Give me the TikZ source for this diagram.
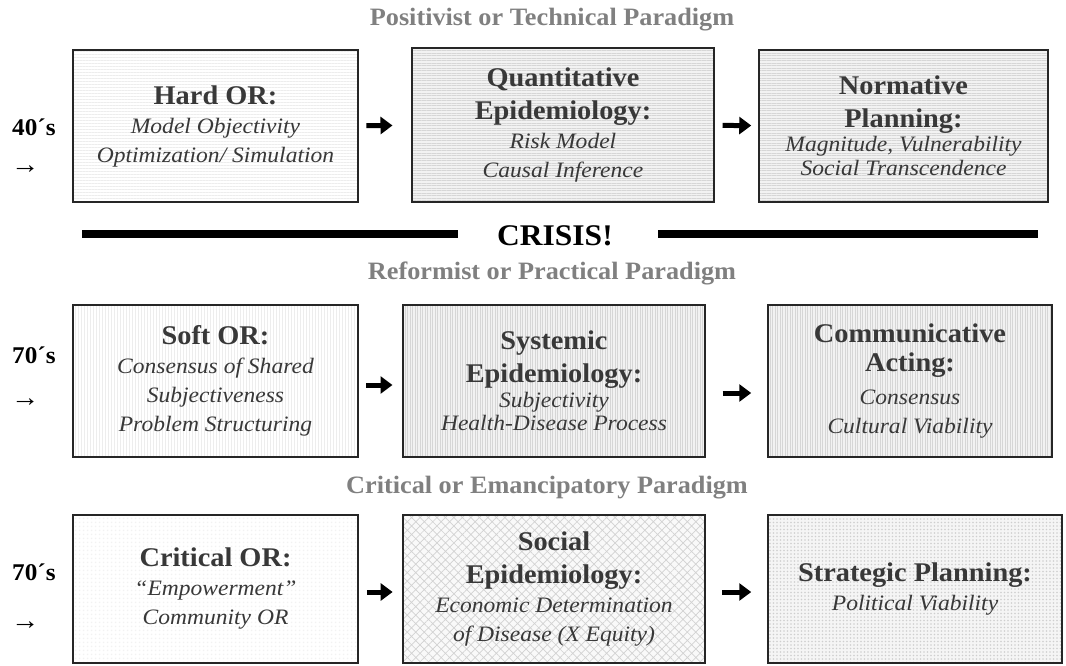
\documentclass[tikz,border=0pt]{standalone}
\usepackage{fontspec}
\setmainfont{Liberation Serif}[ItalicFeatures={FakeStretch=1.07}, BoldFeatures={FakeStretch=1.05}]
\usetikzlibrary{arrows.meta}
\usetikzlibrary{patterns.meta}

\newcommand{\hd}[1]{{\fontsize{27}{30}\selectfont\bfseries\upshape #1}}

\tikzset{
  box/.style={draw=black!85, line width=1.5pt, inner sep=0pt, align=center,
    text=black!78, font=\fontsize{22}{29}\selectfont\itshape},
  hlite/.style={preaction={fill=white}, pattern={Lines[angle=0,distance=3pt,line width=0.9pt]}, pattern color=gray!14},
  hdark/.style={preaction={fill=gray!10}, pattern={Lines[angle=0,distance=2.5pt,line width=1pt]}, pattern color=gray!32},
  vlite/.style={preaction={fill=white}, pattern={Lines[angle=90,distance=3pt,line width=0.9pt]}, pattern color=gray!14},
  vdark/.style={preaction={fill=gray!10}, pattern={Lines[angle=90,distance=2.5pt,line width=1pt]}, pattern color=gray!32},
  dlite/.style={preaction={fill=white}, pattern={Dots[distance=4pt,radius=1pt]}, pattern color=gray!10},
  weave/.style={preaction={fill=gray!5}, pattern={Hatch[angle=45,distance=6pt,line width=0.7pt]}, pattern color=gray!35},
  dgrid/.style={preaction={fill=gray!8}, pattern={Dots[distance=3.5pt,radius=0.9pt]}, pattern color=gray!38},
  paradigm/.style={text=black!50, font=\fontsize{25}{28}\selectfont\bfseries},
  era/.style={anchor=west, inner sep=0pt, font=\fontsize{24}{28}\selectfont\bfseries},
  pointer/.style={anchor=west, inner sep=0pt, font=\fontsize{27}{28}\selectfont\bfseries},
  link/.style={line width=5pt, -{Triangle[length=12pt,width=17pt]}},
  bar/.style={line width=8pt}
}

\begin{document}
\begin{tikzpicture}[x=1pt, y=-1pt]
  \useasboundingbox (0,0) rectangle (1066,666);
  \fill[white] (0,0) rectangle (1066,666);

  % positivist row
  \node[paradigm] (pos) at (552,20) {Positivist or Technical Paradigm};
  \node[era] (e1) at (12,127) {40´s};
  \node[pointer] (a1) at (11,170) {→};
  \node[box, hlite, minimum width=285pt, minimum height=152pt] (hard) at (215.5,126)
    {\hd{Hard OR:}\\ Model Objectivity\\ Optimization/ Simulation};
  \node[box, hdark, minimum width=302pt, minimum height=154pt] (quant) at (563,125)
    {\hd{Quantitative}\\[4pt] \hd{Epidemiology:}\\ Risk Model\\ Causal Inference};
  \node[box, hdark, minimum width=289pt, minimum height=152pt] (norm) at (903.5,126)
    {\hd{Normative}\\[4pt] \hd{Planning:}\\[-5pt] Magnitude, Vulnerability\\[-5pt] Social Transcendence};
  \draw[link, shorten <=8pt, shorten >=19pt] (hard) -- (quant);
  \draw[link, shorten <=8pt, shorten >=7pt] (quant) -- (norm);

  % crisis
  \node[font=\fontsize{30}{32}\selectfont\bfseries] (crisis) at (555,236) {CRISIS!};
  \coordinate (bl) at (82,234);
  \coordinate (br) at (1038,234);
  \draw[bar, shorten >=36pt] (bl) -- (bl -| crisis.west);
  \draw[bar, shorten <=42pt] (br -| crisis.east) -- (br);

  % reformist row
  \node[paradigm] (ref) at (552,273) {Reformist or Practical Paradigm};
  \node[era] (e2) at (12,355) {70´s};
  \node[pointer] (a2) at (11,403) {→};
  \node[box, vlite, minimum width=285pt, minimum height=152pt] (soft) at (215.5,381)
    {\hd{Soft OR:}\\ Consensus of Shared\\ Subjectiveness\\ Problem Structuring};
  \node[box, vdark, minimum width=302pt, minimum height=152pt] (sys) at (554,381)
    {\hd{Systemic}\\[4pt] \hd{Epidemiology:}\\[-4pt] Subjectivity\\[-6pt] Health-Disease Process};
  \node[box, vdark, minimum width=284pt, minimum height=152pt] (comm) at (910,381)
    {\hd{Communicative}\\ \hd{Acting:}\\[4pt] Consensus\\ Cultural Viability};
  \draw[link, shorten <=8pt, shorten >=10pt] ([yshift=-4pt]soft.east) -- ([yshift=-4pt]sys.west);
  \draw[link, shorten <=17pt, shorten >=16pt] ([yshift=-12pt]sys.east) -- ([yshift=-12pt]comm.west);

  % critical row
  \node[paradigm] (crt) at (547,488) {Critical or Emancipatory Paradigm};
  \node[era] (e3) at (12,572) {70´s};
  \node[pointer] (a3) at (11,626) {→};
  \node[box, dlite, minimum width=285pt, minimum height=148pt] (crit) at (215.5,589)
    {\hd{Critical OR:}\\ “Empowerment”\\ Community OR};
  \node[box, weave, minimum width=302pt, minimum height=148pt] (soc) at (554,589)
    {\hd{Social}\\[4pt] \hd{Epidemiology:}\\ Economic Determination\\ of Disease (X Equity)};
  \node[box, dgrid, minimum width=294pt, minimum height=148pt] (strat) at (915,589)
    {\hd{Strategic Planning:}\\ Political Viability};
  \draw[link, shorten <=8pt, shorten >=10pt] ([yshift=-3pt]crit.east) -- ([yshift=-3pt]soc.west);
  \draw[link, shorten <=17pt, shorten >=16pt] ([yshift=-3pt]soc.east) -- ([yshift=-3pt]strat.west);
\end{tikzpicture}
\end{document}
